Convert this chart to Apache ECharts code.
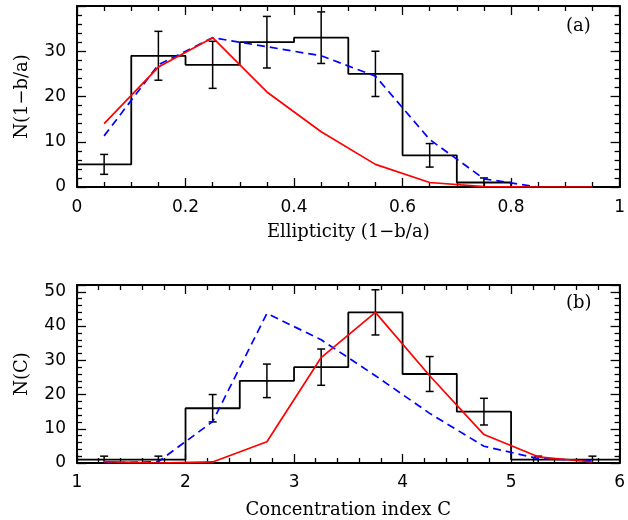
<!DOCTYPE html>
<html>
<head>
<meta charset="utf-8">
<script src="https://cdn.jsdelivr.net/npm/echarts@6/dist/echarts.min.js"></script>
<style>
  html, body { margin: 0; padding: 0; background: #fff; }
  #chart { width: 628px; height: 520px; }
</style>
</head>
<body>
<div id="chart"></div>
<script>
// panel (a): ellipticity
const ellEdges = [0, 0.1, 0.2, 0.3, 0.4, 0.5, 0.6, 0.7, 0.8, 0.9, 1.0];
const ellCounts = [5, 29, 27, 32, 33, 25, 7, 1, 0, 0];
const ellCenters = [0.05, 0.15, 0.25, 0.35, 0.45, 0.55, 0.65, 0.75, 0.85, 0.95];
const ellErrors = [2.2, 5.4, 5.2, 5.7, 5.7, 5.0, 2.6, 1.0];
const ellRed = [14, 26.5, 33, 21, 12.2, 5, 1, 0.1, 0, 0];
const ellBlue = [11.3, 27, 33, 31, 29, 24.5, 10.5, 1.8, 0];

// panel (b): concentration index
const concEdges = [1, 1.5, 2, 2.5, 3, 3.5, 4, 4.5, 5, 5.5, 6];
const concCounts = [1, 1, 16, 24, 28, 44, 26, 15, 1, 1];
const concCenters = [1.25, 1.75, 2.25, 2.75, 3.25, 3.75, 4.25, 4.75, 5.25, 5.75];
const concErrors = [1, 1, 4, 4.9, 5.3, 6.6, 5.1, 3.9, 1, 1];
const concRed = [0.4, 0, 0.3, 6.2, 30.8, 44, 25.5, 8.3, 1.8, 0.3];
const concBlue = [0, 0.4, 12.1, 43.7, 36, 25.5, 14.5, 4.9, 1.3, 0.7];

const numFont = 'DejaVu Sans';
const nameFont = 'DejaVu Serif';

const stepData = (edges, counts) =>
  counts.map((c, i) => [edges[i], c]).concat([[edges[edges.length - 1], counts[counts.length - 1]]]);
const pairs = (xs, ys) => ys.map((y, i) => [xs[i], y]);
const errData = (xs, counts, errs) => errs.map((e, i) => [xs[i], counts[i] - e, counts[i] + e]);

const renderErr = (params, api) => {
  const x = api.value(0);
  const lo = api.coord([x, api.value(1)]);
  const hi = api.coord([x, api.value(2)]);
  const style = { stroke: '#000', lineWidth: 1.5 };
  return {
    type: 'group',
    children: [
      { type: 'line', shape: { x1: lo[0], y1: lo[1], x2: hi[0], y2: hi[1] }, style },
      { type: 'line', shape: { x1: lo[0] - 4, y1: lo[1], x2: lo[0] + 4, y2: lo[1] }, style },
      { type: 'line', shape: { x1: hi[0] - 4, y1: hi[1], x2: hi[0] + 4, y2: hi[1] }, style },
    ],
  };
};

const boxAxis = (extra) => Object.assign({
  type: 'value',
  axisLine: { show: true, onZero: false, lineStyle: { color: '#000', width: 2 } },
  axisTick: { show: true, inside: true, length: 9, lineStyle: { color: '#000', width: 1.3 } },
  minorTick: { show: true, length: 5, lineStyle: { color: '#000', width: 1.3 } },
  splitLine: { show: false },
  axisLabel: { show: false },
}, extra);

const label = (margin) => ({
  show: true, color: '#000', fontFamily: numFont, fontSize: 17, margin,
  showMaxLabel: true,
});

const option = {
  animation: false,
  backgroundColor: '#fff',
  grid: [
    { left: 77, right: 5, top: 6, height: 181 },
    { left: 77, right: 5, top: 285, height: 178 },
  ],
  xAxis: [
    boxAxis({
      gridIndex: 0, position: 'bottom', min: 0, max: 1, interval: 0.2,
      minorTick: { show: true, splitNumber: 4, length: 5, lineStyle: { color: '#000', width: 1.3 } },
      axisLabel: label(12),
      name: 'Ellipticity (1\u2212b/a)', nameLocation: 'middle', nameGap: 36,
      nameTextStyle: { color: '#000', fontFamily: nameFont, fontSize: 18 },
    }),
    boxAxis({
      gridIndex: 0, position: 'top', min: 0, max: 1, interval: 0.2,
      minorTick: { show: true, splitNumber: 4, length: 5, lineStyle: { color: '#000', width: 1.3 } },
    }),
    boxAxis({
      gridIndex: 1, position: 'bottom', min: 1, max: 6, interval: 1,
      minorTick: { show: true, splitNumber: 5, length: 5, lineStyle: { color: '#000', width: 1.3 } },
      axisLabel: label(11),
      name: 'Concentration index C', nameLocation: 'middle', nameGap: 38,
      nameTextStyle: { color: '#000', fontFamily: nameFont, fontSize: 18 },
    }),
    boxAxis({
      gridIndex: 1, position: 'top', min: 1, max: 6, interval: 1,
      minorTick: { show: true, splitNumber: 5, length: 5, lineStyle: { color: '#000', width: 1.3 } },
    }),
  ],
  yAxis: [
    boxAxis({
      gridIndex: 0, position: 'left', min: 0, max: 40, interval: 10,
      axisLabel: Object.assign(label(11), { showMaxLabel: false }),
      name: 'N(1\u2212b/a)', nameLocation: 'middle', nameGap: 46,
      nameTextStyle: { color: '#000', fontFamily: nameFont, fontSize: 18 },
    }),
    boxAxis({ gridIndex: 0, position: 'right', min: 0, max: 40, interval: 10 }),
    boxAxis({
      gridIndex: 1, position: 'left', min: 0, max: 52, interval: 10,
      axisLabel: Object.assign(label(11), { showMaxLabel: false }),
      name: 'N(C)', nameLocation: 'middle', nameGap: 46,
      nameTextStyle: { color: '#000', fontFamily: nameFont, fontSize: 18 },
    }),
    boxAxis({ gridIndex: 1, position: 'right', min: 0, max: 52, interval: 10 }),
  ],
  graphic: [
    { type: 'text', left: 566, top: 17, style: { text: '(a)', fontFamily: nameFont, fontSize: 18, fill: '#000' } },
    { type: 'text', left: 566, top: 294, style: { text: '(b)', fontFamily: nameFont, fontSize: 18, fill: '#000' } },
  ],
  series: [
    {
      type: 'line', xAxisIndex: 0, yAxisIndex: 0, step: 'end', symbol: 'none',
      data: stepData(ellEdges, ellCounts),
      lineStyle: { color: '#000', width: 1.8 },
    },
    {
      type: 'custom', xAxisIndex: 0, yAxisIndex: 0, renderItem: renderErr,
      encode: { x: 0, y: [1, 2] },
      data: errData(ellCenters, ellCounts, ellErrors),
    },
    {
      type: 'line', xAxisIndex: 0, yAxisIndex: 0, symbol: 'none',
      data: pairs(ellCenters, ellBlue),
      lineStyle: { color: '#0000ff', width: 1.7, type: [8, 5] },
    },
    {
      type: 'line', xAxisIndex: 0, yAxisIndex: 0, symbol: 'none',
      data: pairs(ellCenters, ellRed),
      lineStyle: { color: '#ff0000', width: 1.7 },
    },
    {
      type: 'line', xAxisIndex: 2, yAxisIndex: 2, step: 'end', symbol: 'none',
      data: stepData(concEdges, concCounts),
      lineStyle: { color: '#000', width: 1.8 },
    },
    {
      type: 'custom', xAxisIndex: 2, yAxisIndex: 2, renderItem: renderErr,
      encode: { x: 0, y: [1, 2] },
      data: errData(concCenters, concCounts, concErrors),
    },
    {
      type: 'line', xAxisIndex: 2, yAxisIndex: 2, symbol: 'none',
      data: pairs(concCenters, concBlue),
      lineStyle: { color: '#0000ff', width: 1.7, type: [8, 5] },
    },
    {
      type: 'line', xAxisIndex: 2, yAxisIndex: 2, symbol: 'none',
      data: pairs(concCenters, concRed),
      lineStyle: { color: '#ff0000', width: 1.7 },
    },
  ],
};

const chart = echarts.init(document.getElementById('chart'));
chart.setOption(option);
</script>
</body>
</html>
